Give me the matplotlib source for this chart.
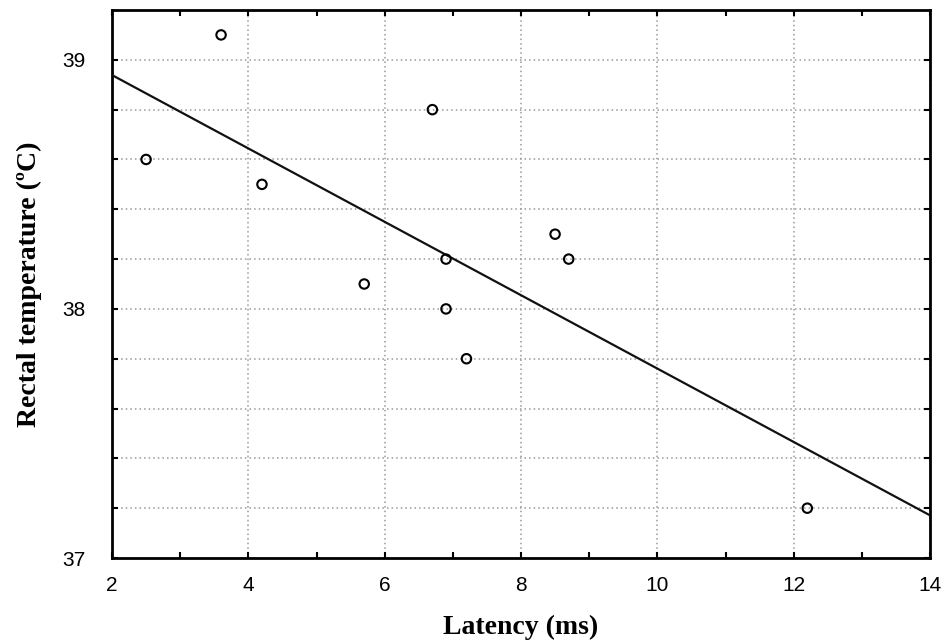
import matplotlib
matplotlib.use('Agg')
import matplotlib.pyplot as plt
import numpy as np

# Latency (ms) vs rectal temperature (degC)
latency = [2.5, 3.6, 4.2, 6.7, 5.7, 6.9, 6.9, 7.2, 8.5, 8.7, 12.2]
temperature = [38.6, 39.1, 38.5, 38.8, 38.1, 38.2, 38.0, 37.8, 38.3, 38.2, 37.2]

x_ticks = [2, 4, 6, 8, 10, 12, 14]
y_ticks = [37, 38, 39]

fig = plt.figure(figsize=(9.46, 6.43), dpi=100)
ax = fig.add_axes([112 / 946, 85 / 643, 818 / 946, 548 / 643])

# linear fit across the full x range
slope, intercept = np.polyfit(latency, temperature, 1)
xs = np.array([2, 14])
ax.plot(xs, slope * xs + intercept, color='#111111', lw=1.6, zorder=3)

ax.scatter(latency, temperature, s=46, facecolors='none', edgecolors='black',
           linewidths=1.5, zorder=4)

ax.set_xlim(2, 14)
ax.set_ylim(37, 39.2)
ax.set_xticks(x_ticks)
ax.set_xticks(np.arange(3, 14, 2), minor=True)
ax.set_yticks(y_ticks)
ax.set_yticks(np.arange(37.2, 39.2, 0.2), minor=True)

# vertical grid on major x ticks, horizontal grid every 0.2
ax.grid(axis='x', which='major', color='#999999', ls=(0, (1, 2)), lw=1.1)
ax.grid(axis='y', which='both', color='#999999', ls=(0, (1, 2)), lw=1.1)

ax.tick_params(which='both', direction='in', top=True, right=True,
               length=4, width=1.5, labelsize=15)
ax.tick_params(axis='x', pad=13)
ax.tick_params(axis='y', pad=19)
for lbl in ax.get_xticklabels() + ax.get_yticklabels():
    lbl.set_family('Liberation Sans')
for sp in ax.spines.values():
    sp.set_linewidth(2)

ax.set_xlabel('Latency (ms)', family='Liberation Serif', fontweight='bold',
              fontsize=20, labelpad=14)
ax.set_ylabel('Rectal temperature (ºC)', family='Liberation Serif',
              fontweight='bold', fontsize=20, labelpad=15)

plt.savefig('out.png', dpi=100)
